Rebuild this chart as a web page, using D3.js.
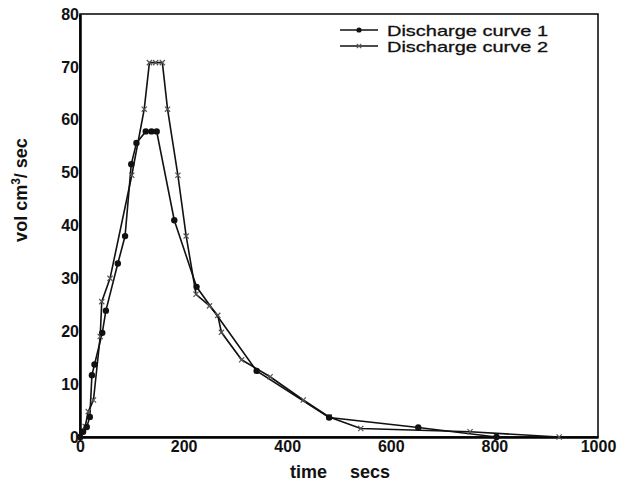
<html>
<head>
  <script src="https://d3js.org/d3.v7.min.js"></script>
  <style>
    body { margin: 0; background: #fff; }
    text { font-family: "Liberation Sans", Arial, sans-serif; }
    .axis text { font-size: 16px; font-weight: bold; fill: #111; }
    .axis .domain { stroke: #000; stroke-width: 2.5px; }
    .frame { fill: none; stroke: #000; stroke-width: 1.5px; }
    .curve { fill: none; stroke: #111; stroke-width: 1.6px; }
  </style>
</head>
<body>
  <svg id="chart" width="619" height="485"></svg>
  <script>
    // discharge curve 1 (filled dots)
    const time1 = [0, 6, 13, 19, 23, 28, 43, 50, 73, 87, 99, 109, 127, 138, 148, 182, 225, 341, 481, 653, 804];
    const vol1  = [0, 1, 1.9, 3.8, 11.7, 13.7, 19.7, 23.9, 32.8, 38, 51.6, 55.6, 57.8, 57.8, 57.8, 41, 28.4, 12.5, 3.7, 1.8, 0];

    // discharge curve 2 (crosses)
    const time2 = [0, 10, 16, 26, 39, 42, 58, 100, 124, 134, 146, 159, 169, 189, 205, 224, 250, 266, 273, 312, 367, 431, 481, 542, 753, 925];
    const vol2  = [0, 2, 4.8, 7, 19, 25.6, 30, 49.5, 62, 70.8, 70.8, 70.8, 62, 49.5, 38, 27, 24.8, 23, 19.8, 14.6, 11.4, 7, 3.8, 1.6, 1, 0];

    const xTicks = [0, 200, 400, 600, 800, 1000];
    const yTicks = [0, 10, 20, 30, 40, 50, 60, 70, 80];
    const seriesNames = ["Discharge curve 1", "Discharge curve 2"];

    const svg = d3.select("#chart");
    const margin = {top: 14, right: 21, bottom: 48, left: 80};
    const chartWidth = 619 - margin.left - margin.right;
    const chartHeight = 485 - margin.top - margin.bottom;

    const x = d3.scaleLinear().domain([0, 1000]).range([0, chartWidth]);
    const y = d3.scaleLinear().domain([0, 80]).range([chartHeight, 0]);

    const chart = svg.append("g")
      .attr("transform", `translate(${margin.left},${margin.top})`);

    // box round the plot
    chart.append("rect").attr("class", "frame")
      .attr("x", 0).attr("y", 0)
      .attr("width", chartWidth).attr("height", chartHeight);

    chart.append("g").attr("class", "axis")
      .attr("transform", `translate(0,${chartHeight})`)
      .call(d3.axisBottom(x).tickValues(xTicks).tickSize(0).tickPadding(4).tickFormat(d3.format("d")));

    chart.append("g").attr("class", "axis")
      .call(d3.axisLeft(y).tickValues(yTicks).tickSize(0).tickPadding(1));

    const line = d3.line().x(d => x(d[0])).y(d => y(d[1]));
    const pts1 = time1.map((t, i) => [t, vol1[i]]);
    const pts2 = time2.map((t, i) => [t, vol2[i]]);

    chart.append("path").datum(pts2).attr("class", "curve").attr("d", line);
    chart.append("path").datum(pts1).attr("class", "curve").attr("d", line);

    const cross = (sel, s) => sel.attr("d", `M${-s},${-s}L${s},${s}M${-s},${s}L${s},${-s}`)
      .attr("stroke", "#555").attr("stroke-width", 1.2).attr("fill", "none");

    chart.selectAll("path.x2").data(pts2).join("path").attr("class", "x2")
      .attr("transform", d => `translate(${x(d[0])},${y(d[1])})`)
      .call(cross, 2.6);

    chart.selectAll("circle.p1").data(pts1).join("circle").attr("class", "p1")
      .attr("cx", d => x(d[0])).attr("cy", d => y(d[1]))
      .attr("r", 3.2).attr("fill", "#111");

    // legend
    const legend = svg.append("g");
    seriesNames.forEach((name, i) => {
      const ly = 30 + i * 16;
      legend.append("line").attr("x1", 340).attr("x2", 378).attr("y1", ly).attr("y2", ly)
        .attr("stroke", "#111").attr("stroke-width", 1.4);
      if (i === 0) {
        legend.append("circle").attr("cx", 359).attr("cy", ly).attr("r", 2.6).attr("fill", "#111");
      } else {
        legend.append("path").attr("transform", `translate(359,${ly})`).call(cross, 2.2);
      }
      legend.append("text").attr("x", 387).attr("y", ly + 5.5)
        .attr("font-size", "15px").attr("fill", "#111")
        .attr("stroke", "#111").attr("stroke-width", 0.3)
        .attr("textLength", 161).attr("lengthAdjust", "spacingAndGlyphs")
        .text(name);
    });

    // axis titles
    svg.append("text").attr("x", 290).attr("y", 478)
      .attr("font-size", "18px").attr("font-weight", "bold").attr("fill", "#111").text("time");
    svg.append("text").attr("x", 350).attr("y", 478)
      .attr("font-size", "18px").attr("font-weight", "bold").attr("fill", "#111").text("secs");

    const ylab = svg.append("text")
      .attr("transform", "translate(27,190) rotate(-90)")
      .attr("text-anchor", "middle")
      .attr("font-size", "18px").attr("font-weight", "bold").attr("fill", "#111");
    ylab.append("tspan").text("vol cm");
    ylab.append("tspan").attr("font-size", "12px").attr("dy", -7).text("3");
    ylab.append("tspan").attr("dy", 7).text("/ sec");
  </script>
</body>
</html>
